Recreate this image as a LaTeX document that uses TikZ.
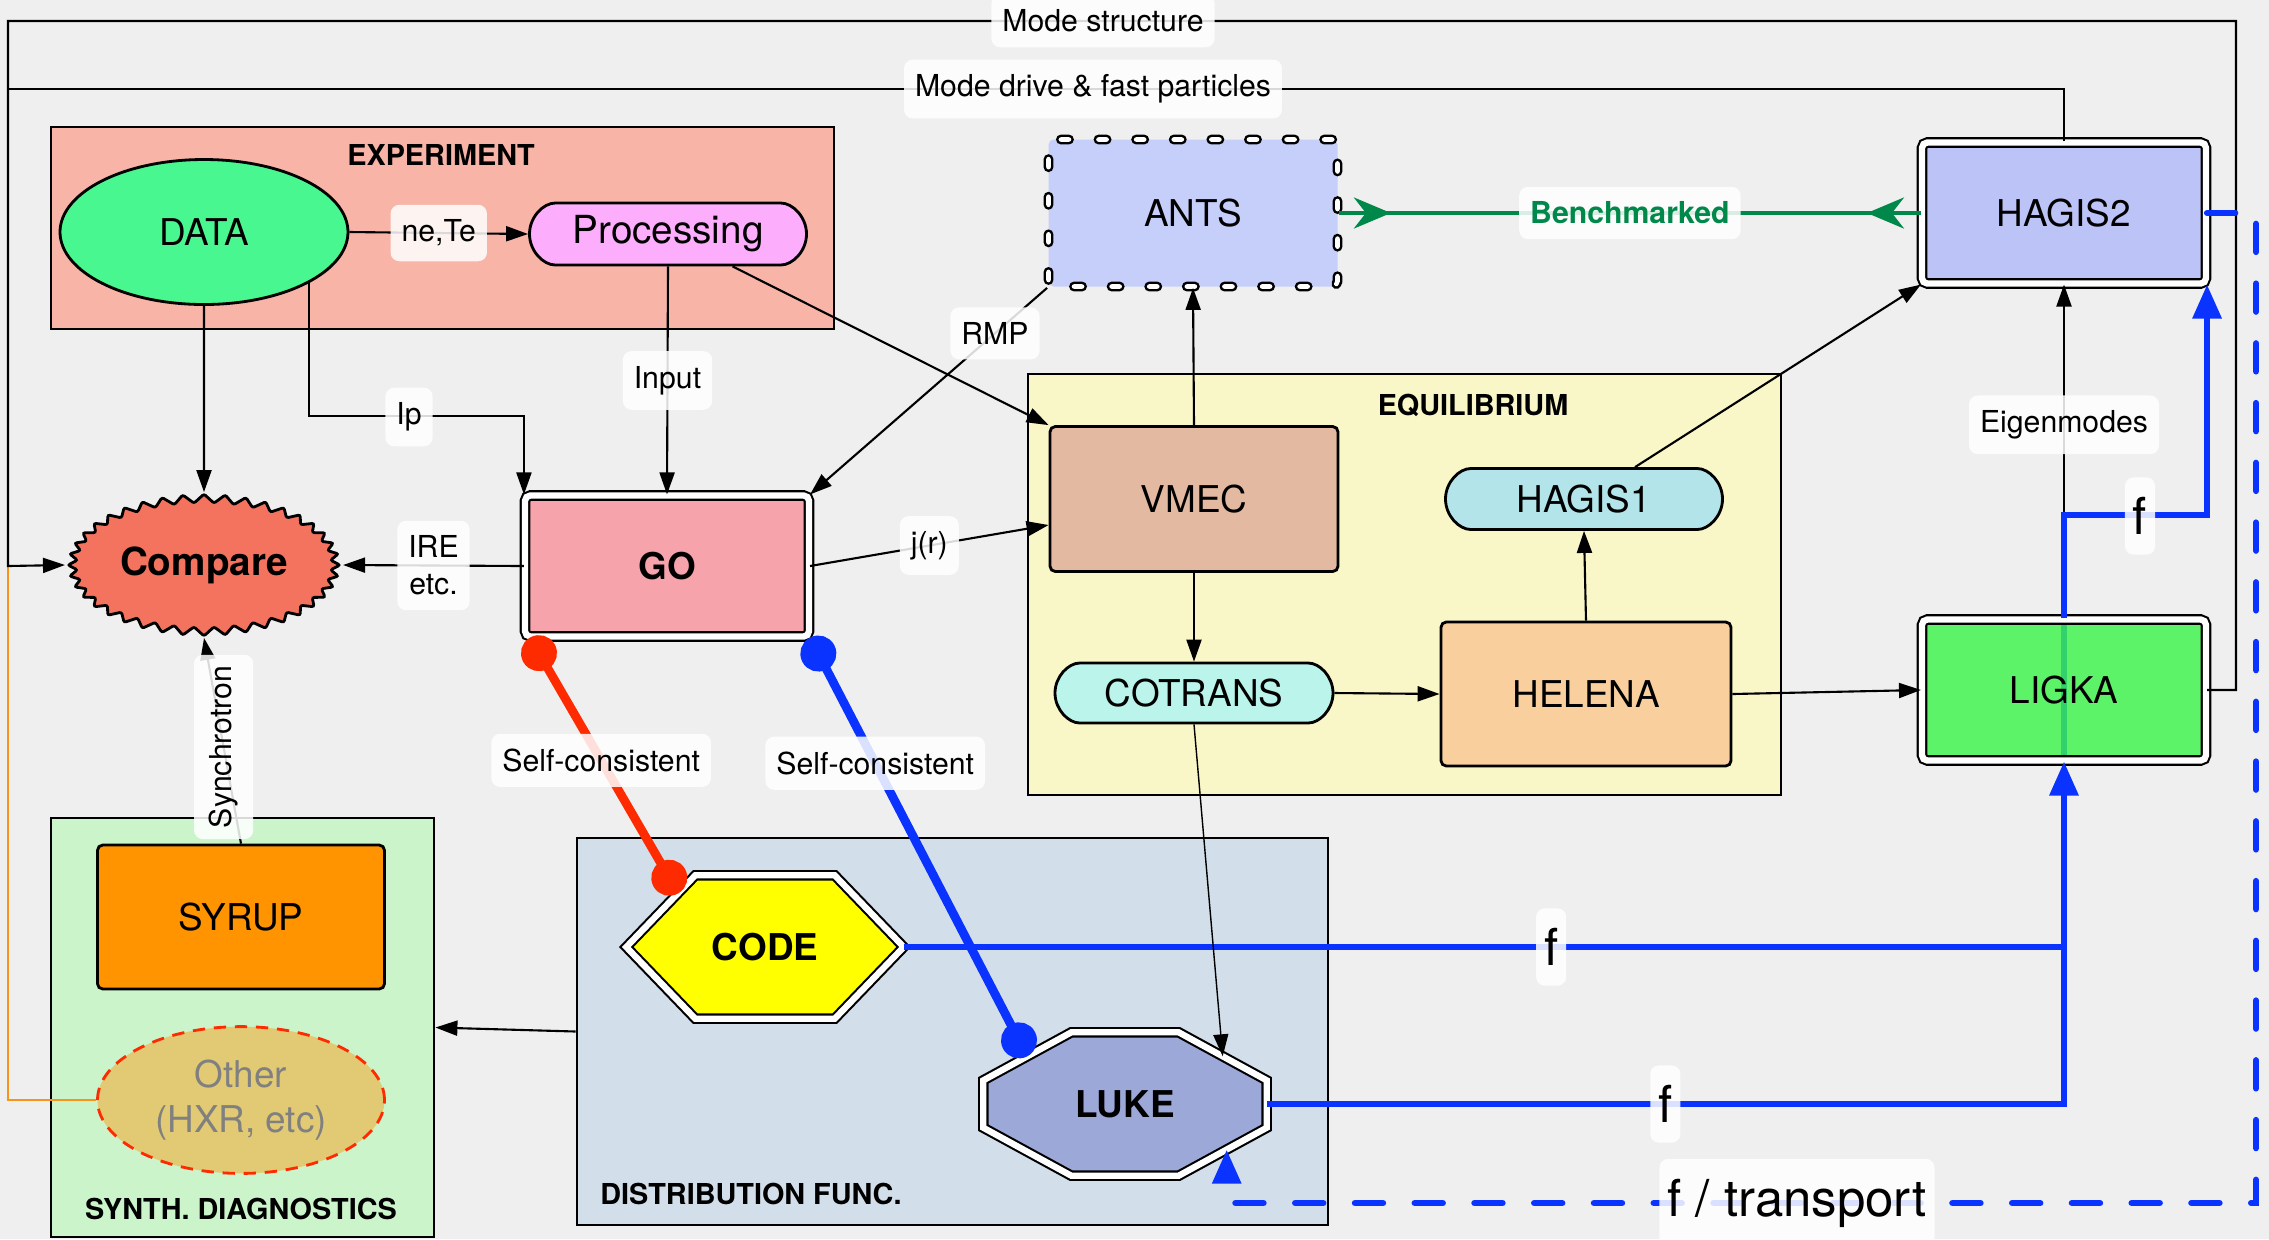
\documentclass[tikz,border=0pt]{standalone}
\usepackage{fontspec}
\setmainfont{TeX Gyre Heros}
\usepackage{tikz}
\usetikzlibrary{arrows.meta,positioning,shapes.geometric,shapes.misc,shapes.symbols,decorations.markings}

\definecolor{bgpaper}{HTML}{EFEFEF}
\definecolor{expfill}{HTML}{F7B4A7}
\definecolor{datagreen}{HTML}{48F790}
\definecolor{procpink}{HTML}{FCAEFC}
\definecolor{comparered}{HTML}{F3735E}
\definecolor{gopink}{HTML}{F7A3AB}
\definecolor{antsblue}{HTML}{C6CFFA}
\definecolor{hagisblue}{HTML}{BCC3F6}
\definecolor{equifill}{HTML}{F9F6C7}
\definecolor{vmecfill}{HTML}{E3B9A1}
\definecolor{hagisonefill}{HTML}{B2E4E9}
\definecolor{cotransfill}{HTML}{BAF4EB}
\definecolor{helenafill}{HTML}{F8CF9D}
\definecolor{ligkagreen}{HTML}{3DF44B}
\definecolor{distfill}{HTML}{D2DEE9}
\definecolor{codeyellow}{HTML}{FFFF00}
\definecolor{lukefill}{HTML}{9CA8D8}
\definecolor{synthfill}{HTML}{CBF4CB}
\definecolor{syruporange}{HTML}{FF9400}
\definecolor{otherfill}{HTML}{E2CA74}
\definecolor{flowblue}{HTML}{0A33FF}
\definecolor{selfred}{HTML}{FF2B00}
\definecolor{benchgreen}{HTML}{00884A}
\definecolor{railorange}{HTML}{F7941D}

\newcommand\modfont{\fontsize{10.5}{12.8}\selectfont}
\newcommand\lblfont{\fontsize{8.6}{10.5}\selectfont}
\newcommand\grpfont{\fontsize{8.2}{10}\selectfont\bfseries}
\newcommand\flowfont{\fontsize{14.5}{17}\selectfont}

\pgfdeclarelayer{canvas}
\pgfdeclarelayer{back}
\pgfsetlayers{canvas,back,main}

\tikzset{
  modbox/.style={draw, line width=0.8pt, rounded corners=1.5pt, font=\modfont, inner sep=1mm},
  pill/.style={modbox, rounded rectangle, inner sep=0.5mm},
  twin/.style={draw=black, line width=0.6pt, double=white, double distance=1.8pt},
  beads/.style={
    postaction={draw=black, line width=2.8pt, line cap=round, dash pattern=on 2.3pt off 8.4pt},
    postaction={draw=white, line width=1.3pt, line cap=round, dash pattern=on 2.3pt off 8.4pt}},
  grp/.style={draw, line width=0.8pt, inner sep=0pt},
  grptitle/.style={font=\grpfont},
  lbl/.style={fill=white, fill opacity=0.85, text opacity=1, text=black, rounded corners=2.5pt,
    inner xsep=1.1mm, inner ysep=1.5mm, font=\lblfont},
  flowlbl/.style={lbl, font=\flowfont, inner xsep=0.8mm, inner ysep=2mm},
  link/.style={draw=black, line width=0.6pt},
  arr/.style={link, -{Triangle[length=2.2mm,width=1.5mm]}},
  flow/.style={draw=flowblue, line width=1.8pt},
  flowarr/.style={flow, -{Triangle[length=3.4mm,width=2.8mm]}},
  transport/.style={flowarr, dash pattern=on 8pt off 9pt, line cap=round},
  selfline/.style={line width=2.5pt, {Circle[length=3.6mm]}-{Circle[length=3.6mm]}},
  bench/.style={draw=benchgreen, line width=1.2pt,
    postaction={decorate, decoration={markings,
      mark=at position 5.2mm with {\arrow{Stealth[length=3.7mm,width=3.1mm,inset=1.2mm]}},
      mark=at position -5.4mm with {\arrowreversed{Stealth[length=3.7mm,width=3.1mm,inset=1.2mm]}}}}},
}

\begin{document}
\begin{tikzpicture}[x=0.1mm, y=-0.1mm]
    \useasboundingbox (0,0) rectangle (2269,1239);

    % Paper and group panels
    \begin{pgfonlayer}{canvas}
        \fill[bgpaper] (0,0) rectangle (2269,1239);
        \node[grp, fill=expfill, minimum width=78.3mm, minimum height=20.2mm] (experiment) at (442.5,228) {};
        \node[grp, fill=equifill, minimum width=75.3mm, minimum height=42.1mm] (equil) at (1404.5,584.5) {};
        \node[grp, fill=distfill, minimum width=75.1mm, minimum height=38.7mm] (distf) at (952.5,1031.5) {};
        \node[grp, fill=synthfill, minimum width=38.3mm, minimum height=41.9mm] (synth) at (242.5,1027.5) {};
    \end{pgfonlayer}
    \node[grptitle] (experimenttitle) at (441,155) {EXPERIMENT};
    \node[grptitle] (equiltitle) at (1473,405) {EQUILIBRIUM};
    \node[grptitle, anchor=west] (distftitle) at (588,1194) {DISTRIBUTION FUNC.};
    \node[grptitle] (synthtitle) at (241,1209) {SYNTH. DIAGNOSTICS};

    % Experiment side
    \node[modbox, ellipse, fill=datagreen, minimum width=28.8mm, minimum height=14.5mm] (data) at (204,232) {DATA};
    \node[pill, fill=procpink, minimum width=28.7mm, minimum height=6.2mm, font=\fontsize{11}{13}\selectfont] (proc) at (668,234) {Processing};
    \node[starburst, draw, line width=0.8pt, fill=comparered, starburst points=40, starburst point height=0.9mm,
        random starburst=0, rounded corners=0.6pt, inner sep=0pt, minimum width=27.2mm, minimum height=14.2mm,
        font=\fontsize{11}{13}\selectfont\bfseries] (compare) at (204,565) {Compare};
    \node[modbox, twin, fill=gopink, minimum width=28.4mm, minimum height=14.1mm, font=\modfont\bfseries] (go) at (667,566) {GO};

    % Codes
    \node[modbox, draw=none, fill=antsblue, beads, minimum width=28.9mm, minimum height=14.7mm] (ants) at (1193,213) {ANTS};
    \node[modbox, twin, fill=hagisblue, minimum width=28.4mm, minimum height=14.1mm] (hagis2) at (2064,213) {HAGIS2};
    \node[modbox, fill=vmecfill, minimum width=28.8mm, minimum height=14.5mm] (vmec) at (1194,499) {VMEC};
    \node[pill, fill=hagisonefill, minimum width=28.7mm, minimum height=6.1mm] (hagis1) at (1584,499) {HAGIS1};
    \node[pill, fill=cotransfill, minimum width=28.8mm, minimum height=6mm] (cotrans) at (1194,693) {COTRANS};
    \node[modbox, fill=helenafill, minimum width=29mm, minimum height=14.4mm] (helena) at (1586,694) {HELENA};
    \node[modbox, twin, fill=ligkagreen, fill opacity=0.82, text opacity=1, minimum width=28.4mm, minimum height=14.1mm] (ligka) at (2064,690) {LIGKA};

    % Diagnostics
    \node[modbox, fill=syruporange, minimum width=28.7mm, minimum height=14.4mm] (syrup) at (241,917) {SYRUP};
    \node[ellipse, draw=selfred, line width=0.8pt, dash pattern=on 3.5pt off 2.5pt, fill=otherfill, text=black!50,
        align=center, font=\modfont, minimum width=28.7mm, minimum height=14.5mm] (other) at (241,1100) {Other\\(HXR, etc)};

    % Distribution function solvers (outlines drawn below)
    \node[minimum width=27.6mm, minimum height=14.2mm, font=\modfont\bfseries] (code) at (765,947) {CODE};
    \node[minimum width=28.2mm, minimum height=14.2mm, font=\modfont\bfseries] (luke) at (1125,1104) {LUKE};
    \begin{pgfonlayer}{back}
        \draw[twin, fill=codeyellow] (code.west) -- ([xshift=6.9mm]code.north west) -- ([xshift=-6.9mm]code.north east)
            -- (code.east) -- ([xshift=-6.9mm]code.south east) -- ([xshift=6.9mm]code.south west) -- cycle;
        \draw[twin, fill=lukefill] ([xshift=8.8mm]luke.north west) -- ([xshift=-8.8mm]luke.north east)
            -- ([yshift=-4.8mm]luke.north east) -- ([yshift=4.8mm]luke.south east)
            -- ([xshift=-8.8mm]luke.south east) -- ([xshift=8.8mm]luke.south west)
            -- ([yshift=4.8mm]luke.south west) -- ([yshift=-4.8mm]luke.north west) -- cycle;
        % f runs on through LIGKA
        \draw[flow] (ligka.south) -- (ligka.north);
    \end{pgfonlayer}

    % Outer feedback rails
    \coordinate (railknee) at (8,566);
    \coordinate (railright) at (2236,21);
    \coordinate (drivejoin) at (8,89);
    \draw[railorange, line width=0.8pt] (other.west) -| (railknee);
    \draw[arr] (ligka.east) -| (railright) -| (railknee) -- (compare.west);
    \draw[link] (hagis2.north) |- (drivejoin);
    \node[lbl] (modestruct) at (1103,21) {Mode structure};
    \node[lbl] (modedrive) at (1093,89) {Mode drive \& fast particles};

    % Experiment links
    \draw[arr] (data.east) -- node[lbl] (nete) {ne,Te} (proc.west);
    \draw[arr] (data.south) -- (compare.north);
    \draw[arr] (data.-26.6) |- ([yshift=7.85mm]go.north west) -- (go.north west);
    \node[lbl] (ip) at (409,417) {Ip};
    \draw[arr] (proc.south) -- node[lbl] (input) {Input} (go.north);
    \draw[arr] (proc) -- (vmec.north west);
    \draw[arr] (go.west) -- node[lbl, align=center] (ire) {IRE\\etc.} (compare.east);
    \draw[arr] (go.east) -- node[lbl] (jr) {j(r)} ([yshift=-2.6mm]vmec.west);
    \draw[arr] (ants.south west) -- node[lbl, pos=0.22] (rmp) {RMP} (go.north east);
    \draw[arr] (syrup.north) -- node[lbl, rotate=90, pos=0.47] (synchro) {Synchrotron} (compare.south);
    \draw[arr] (distf.west) -- (synth.east);

    % Equilibrium chain
    \draw[arr] (vmec.north) -- (ants.south);
    \draw[arr] (vmec.south) -- (cotrans.north);
    \draw[arr] (cotrans.east) -- (helena.west);
    \draw[arr] (helena.north) -- (hagis1.south);
    \draw[arr] ([xshift=5.1mm]hagis1.north) -- (hagis2.south west);
    \draw[arr] (helena.east) -- (ligka.west);
    \draw[arr] (ligka.north) -- node[lbl, pos=0.58] (eigen) {Eigenmodes} (hagis2.south);
    \draw[bench] (ants.east) -- node[lbl, text=benchgreen, font=\lblfont\bfseries] (benchmark) {Benchmarked} (hagis2.west);

    % Distribution function flows
    \draw[flow] (code.east) -- node[flowlbl, pos=0.558] (fcode) {f} (code.east -| ligka.south);
    \draw[flowarr] (luke.east) -| node[flowlbl, pos=0.25] (fluke) {f} (ligka.south);
    \draw[flowarr] (ligka.north) -- ([yshift=10.35mm]ligka.north) -| (hagis2.south east);
    \node[flowlbl] (fup) at (2140,516) {f};
    \draw[arr, line width=0.4pt] (cotrans.south) -- ([xshift=-4.4mm,yshift=-2.4mm]luke.north east);
    \coordinate (tcorner) at (2256,1203);
    \draw[transport] (hagis2.east) -| (tcorner) -| ([xshift=-4mm,yshift=2.6mm]luke.south east);
    \node[flowlbl] (ftrans) at (1797,1203) {f / transport};

    % Self-consistent couplings
    \draw[selfline, selfred] ([xshift=0.6mm]go.south west) -- node[lbl, pos=0.48] (scred) {Self-consistent}
        ([xshift=5.2mm,yshift=-1.8mm]code.north west);
    \draw[selfline, flowblue] (go.south east) -- node[lbl, pos=0.3] (scblue) {Self-consistent}
        ([xshift=4.4mm,yshift=-2.4mm]luke.north west);
\end{tikzpicture}
\end{document}
